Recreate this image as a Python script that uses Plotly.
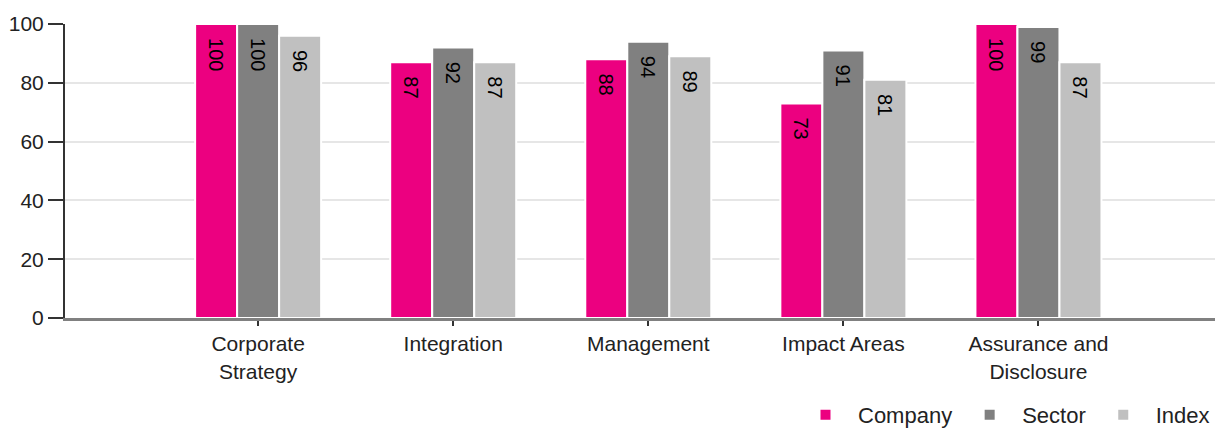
import plotly.graph_objects as go

# данные с картинки
categories = ["Corporate<br>Strategy", "Integration", "Management",
              "Impact Areas", "Assurance and<br>Disclosure"]
company = [100, 87, 88, 73, 100]
sector = [100, 92, 94, 91, 99]
index_vals = [96, 87, 89, 81, 87]
y_ticks = [0, 20, 40, 60, 80, 100]

series = [
    ("Company", company, "#EC0080"),
    ("Sector", sector, "#808080"),
    ("Index", index_vals, "#C0C0C0"),
]

fig = go.Figure()
for name, vals, color in series:
    fig.add_trace(go.Bar(
        name=name,
        x=categories,
        y=vals,
        marker=dict(color=color, line=dict(color="white", width=2)),
        text=["\u00a0\u00a0" + str(v) for v in vals],
        textposition="inside",
        insidetextanchor="end",
        textangle=90,
        insidetextfont=dict(color="black", size=20, family="Liberation Sans, Arial"),
        cliponaxis=False,
    ))

# страница добавляет 8px отступа, поэтому фигура чуть меньше окна
fig.update_layout(
    width=1207, height=426,
    barmode="group",
    bargap=0.354,
    bargroupgap=0,
    plot_bgcolor="white",
    paper_bgcolor="white",
    margin=dict(l=57, r=0, t=16, b=116),
    font=dict(family="Liberation Sans, Arial", size=20, color="#222222"),
    uniformtext=dict(mode="show", minsize=18),
    legend=dict(
        orientation="h",
        x=1.0, xanchor="right", xref="paper",
        y=0.045, yanchor="middle", yref="container",
        font=dict(size=22, color="#222222"),
        itemwidth=55,
        traceorder="normal",
    ),
)

fig.update_xaxes(
    range=[-0.99, 4.905],
    automargin=False,
    showline=True, linecolor="#808080", linewidth=3,
    ticks="outside", ticklen=5, tickwidth=2, tickcolor="#333333",
    tickfont=dict(size=21),
    showgrid=False,
)
fig.update_yaxes(
    range=[0, 100],
    automargin=False,
    tickvals=y_ticks,
    showline=True, linecolor="#333333", linewidth=2,
    ticks="outside", ticklen=15, tickwidth=2, tickcolor="#333333",
    tickfont=dict(size=21),
    showgrid=True, gridcolor="#E6E6E6", gridwidth=2,
    zeroline=False,
)

fig.write_html("out.html")
